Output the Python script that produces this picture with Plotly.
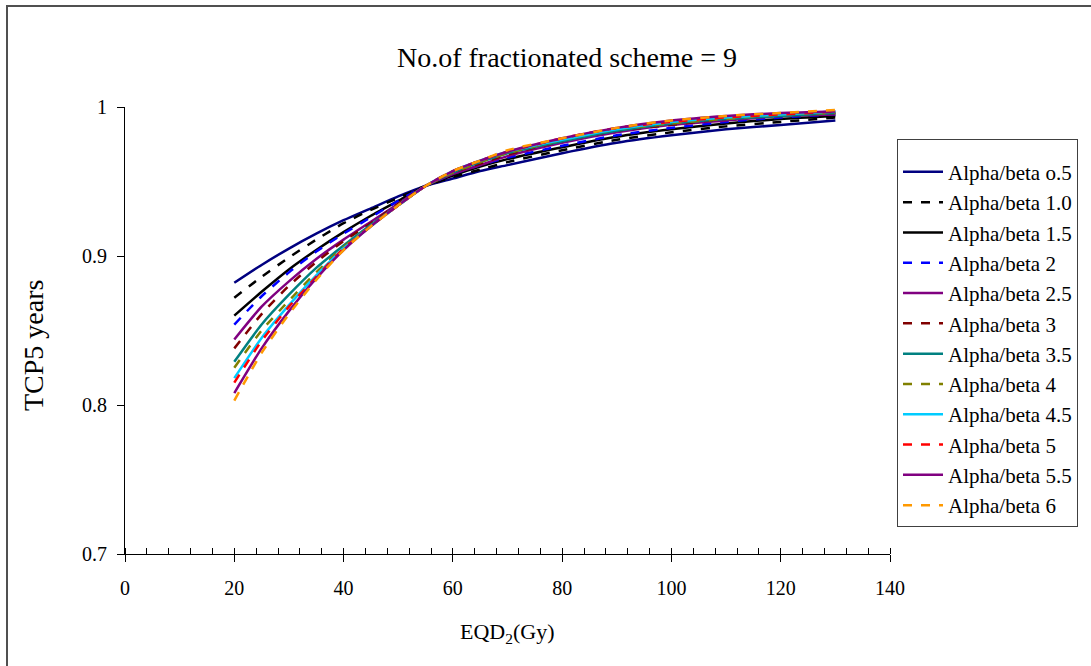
import plotly.graph_objects as go

# EQD2 dose points (Gy)
eqd2 = [20, 25, 30, 35, 40, 45, 50, 55, 60, 65, 70, 80, 90, 100, 110, 120, 130]

# TCP at 5 years for each alpha/beta ratio
tcp_ab_05 = [0.882, 0.894, 0.905, 0.915, 0.924, 0.932, 0.940, 0.947, 0.952, 0.957, 0.961, 0.969, 0.976, 0.981, 0.985, 0.988, 0.991]
tcp_ab_10 = [0.872, 0.886, 0.899, 0.911, 0.922, 0.931, 0.939, 0.947, 0.953, 0.958, 0.963, 0.971, 0.978, 0.983, 0.987, 0.990, 0.993]
tcp_ab_15 = [0.860, 0.876, 0.891, 0.904, 0.916, 0.927, 0.937, 0.947, 0.954, 0.960, 0.965, 0.973, 0.980, 0.985, 0.989, 0.992, 0.994]
tcp_ab_20 = [0.854, 0.873, 0.889, 0.903, 0.915, 0.926, 0.937, 0.947, 0.955, 0.961, 0.966, 0.974, 0.981, 0.986, 0.990, 0.993, 0.995]
tcp_ab_25 = [0.844, 0.866, 0.883, 0.898, 0.911, 0.923, 0.935, 0.947, 0.955, 0.961, 0.967, 0.976, 0.983, 0.988, 0.991, 0.994, 0.995]
tcp_ab_30 = [0.838, 0.861, 0.880, 0.896, 0.910, 0.922, 0.935, 0.947, 0.956, 0.962, 0.968, 0.977, 0.984, 0.988, 0.992, 0.994, 0.996]
tcp_ab_35 = [0.829, 0.854, 0.874, 0.892, 0.907, 0.921, 0.934, 0.947, 0.956, 0.963, 0.969, 0.977, 0.984, 0.989, 0.992, 0.994, 0.996]
tcp_ab_40 = [0.825, 0.850, 0.870, 0.889, 0.906, 0.920, 0.934, 0.947, 0.956, 0.963, 0.969, 0.978, 0.985, 0.989, 0.992, 0.995, 0.996]
tcp_ab_45 = [0.818, 0.845, 0.867, 0.887, 0.905, 0.920, 0.934, 0.947, 0.957, 0.964, 0.970, 0.978, 0.985, 0.990, 0.993, 0.995, 0.997]
tcp_ab_50 = [0.815, 0.843, 0.866, 0.886, 0.905, 0.920, 0.934, 0.947, 0.957, 0.964, 0.970, 0.979, 0.986, 0.990, 0.993, 0.995, 0.997]
tcp_ab_55 = [0.808, 0.838, 0.863, 0.885, 0.904, 0.920, 0.934, 0.947, 0.957, 0.964, 0.970, 0.979, 0.986, 0.991, 0.994, 0.996, 0.997]
tcp_ab_60 = [0.803, 0.835, 0.861, 0.884, 0.904, 0.920, 0.934, 0.947, 0.957, 0.964, 0.971, 0.979, 0.986, 0.991, 0.994, 0.996, 0.998]

series_names = [
    "Alpha/beta o.5", "Alpha/beta 1.0", "Alpha/beta 1.5", "Alpha/beta 2",
    "Alpha/beta 2.5", "Alpha/beta 3", "Alpha/beta 3.5", "Alpha/beta 4",
    "Alpha/beta 4.5", "Alpha/beta 5", "Alpha/beta 5.5", "Alpha/beta 6",
]
series_values = [
    tcp_ab_05, tcp_ab_10, tcp_ab_15, tcp_ab_20, tcp_ab_25, tcp_ab_30,
    tcp_ab_35, tcp_ab_40, tcp_ab_45, tcp_ab_50, tcp_ab_55, tcp_ab_60,
]

colors = ["#000080", "#000000", "#000000", "#0000FF", "#800080", "#800000",
          "#008080", "#808000", "#00CCFF", "#FF0000", "#800080", "#FF9900"]
dashes = ["solid", "dash", "solid", "dash", "solid", "dash",
          "solid", "dash", "solid", "dash", "solid", "dash"]

FONT = "Liberation Serif"

fig = go.Figure()
for i, (name, vals) in enumerate(zip(series_names, series_values)):
    fig.add_trace(go.Scatter(
        x=eqd2, y=vals, name=name, mode="lines",
        line=dict(color=colors[i], width=2.5, dash=dashes[i], shape="spline", smoothing=0.6),
    ))

W, H = 1091, 666
L, R, T, B = 125, 201, 107, 112
pw = W - L - R
ph = H - T - B


def px(x):
    return (x - L) / pw


def py(y):
    return (H - B - y) / ph


fig.update_layout(
    width=W, height=H,
    margin=dict(l=L, r=R, t=T, b=B, autoexpand=False),
    paper_bgcolor="white", plot_bgcolor="white",
    font=dict(family=FONT, size=20, color="#000000"),
    showlegend=True,
    legend=dict(
        x=px(897), y=py(139), xanchor="left", yanchor="top",
        bgcolor="white", bordercolor="#404040", borderwidth=1,
        font=dict(family=FONT, size=21, color="#000000"),
        title=dict(text=" ", font=dict(family=FONT, size=9)),
        itemwidth=40, tracegroupgap=0,
    ),
    xaxis=dict(
        range=[0, 140], tickmode="linear", tick0=0, dtick=20,
        showgrid=False, zeroline=False,
        showline=True, linecolor="#000000", linewidth=1,
        ticks="outside", ticklen=7, tickcolor="#000000",
        ticklabelstandoff=9,
        tickfont=dict(family=FONT, size=20),
        minor=dict(ticks="inside", dtick=4, ticklen=6, tickcolor="#000000", showgrid=False),
    ),
    yaxis=dict(
        range=[0.7, 1.0], tickmode="array",
        tickvals=[0.7, 0.8, 0.9, 1.0], ticktext=["0.7", "0.8", "0.9", "1"],
        showgrid=False, zeroline=False,
        showline=True, linecolor="#000000", linewidth=1,
        ticks="outside", ticklen=7, tickcolor="#000000",
        ticklabelstandoff=6,
        tickfont=dict(family=FONT, size=20),
    ),
    annotations=[
        dict(text="No.of fractionated scheme = 9", xref="paper", yref="paper",
             x=px(567), y=py(57), xanchor="center", yanchor="middle",
             showarrow=False, font=dict(family=FONT, size=28)),
        dict(text="TCP5 years", xref="paper", yref="paper",
             x=px(33), y=py(346), xanchor="center", yanchor="middle",
             textangle=-90, showarrow=False, font=dict(family=FONT, size=28)),
        dict(text="EQD<sub>2</sub>(Gy)", xref="paper", yref="paper",
             x=px(507), y=py(633), xanchor="center", yanchor="middle",
             showarrow=False, font=dict(family=FONT, size=22)),
    ],
    shapes=[
        dict(type="rect", xref="paper", yref="paper",
             x0=px(7), y0=py(700), x1=px(1120), y1=py(6),
             line=dict(color="#505050", width=2), fillcolor="rgba(0,0,0,0)",
             layer="below"),
    ],
)

fig.write_html("out.html")
